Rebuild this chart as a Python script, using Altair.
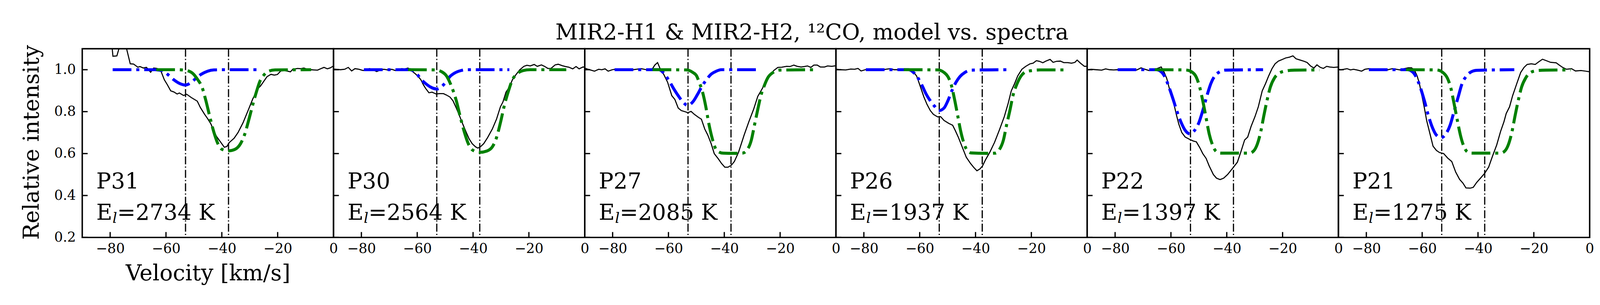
import altair as alt
import pandas as pd

# ---------------- data ----------------
title_text = ["MIR2-H1 & MIR2-H2, ¹²CO, model vs. spectra"]
line_names = ["P31", "P30", "P27", "P26", "P22", "P21"]
energies = ["=2734 K", "=2564 K", "=2085 K", "=1937 K", "=1397 K", "=1275 K"]
vlines = [-53.0, -37.6]
x_ticks = [-80, -60, -40, -20]
y_ticks = [0.2, 0.4, 0.6, 0.8, 1.0]

# P31
sv31 = [-80.0, -79.0, -77.6, -76.2, -75.3, -74.3, -72.8, -71.6, -70.1, -69.3, -68.1, -67.0, -65.5, -64.4, -63.2,
        -61.8, -60.6, -59.5, -58.3, -57.2, -56.0, -55.2, -53.7, -52.6, -50.9, -48.8, -47.7, -46.2, -45.1, -43.9,
        -42.8, -41.9, -40.5, -39.1, -38.2, -37.3, -35.6, -34.2, -32.4, -30.7, -29.0, -27.2, -26.1, -24.9, -23.8,
        -22.4, -21.2, -20.1, -18.9, -17.5, -15.4, -14.6, -12.9, -11.7, -10.6, -9.4, -8.2, -7.1, -5.7, -4.5, -3.4,
        -2.2, -1.1, 0.0]
sy31 = [1.20, 1.064, 1.066, 1.13, 1.16, 1.11, 1.028, 1.027, 1.012, 1.015, 1.008, 1.011, 0.988, 1.008, 1.006,
        0.993, 0.952, 0.928, 0.899, 0.894, 0.884, 0.889, 0.877, 0.883, 0.867, 0.850, 0.820, 0.788, 0.767, 0.741,
        0.706, 0.682, 0.656, 0.630, 0.634, 0.653, 0.673, 0.700, 0.747, 0.802, 0.858, 0.908, 0.923, 0.946, 0.967,
        0.978, 0.974, 0.977, 0.994, 0.996, 0.990, 1.002, 1.006, 1.005, 1.008, 1.002, 1.000, 0.999, 0.998, 1.005,
        1.011, 1.004, 1.009, 1.018]
bv31 = [-79.1, -64.0, -62.5, -61.2, -58.9, -57.2, -55.5, -53.0, -50.9, -49.1, -47.4, -45.1, -42.8, -40.0, -27.2]
by31 = [1.0, 1.0, 0.998, 0.995, 0.972, 0.952, 0.937, 0.927, 0.940, 0.961, 0.978, 0.993, 0.999, 1.0, 1.0]
gv31 = [-63.5, -56.0, -52.6, -50.3, -48.6, -47.1, -45.7, -44.2, -42.8, -41.4, -39.9, -37.6, -35.3, -33.3, -31.9,
        -30.4, -29.0, -27.5, -26.4, -24.9, -23.2, -20.9, -8.0]
gy31 = [1.0, 1.0, 0.996, 0.981, 0.952, 0.917, 0.852, 0.770, 0.700, 0.647, 0.620, 0.613, 0.620, 0.647, 0.688,
        0.758, 0.829, 0.899, 0.943, 0.975, 0.993, 0.999, 1.0]

# P30
sv30 = [-90.0, -89.2, -87.5, -86.0, -84.7, -83.5, -82.3, -80.9, -79.4, -78.3, -77.1, -76.0, -74.5, -73.1, -72.0,
        -70.5, -69.1, -67.9, -66.8, -65.6, -64.5, -63.3, -62.1, -61.0, -59.8, -58.7, -57.8, -57.0, -55.8, -54.7,
        -53.2, -52.0, -50.6, -49.5, -48.3, -47.2, -46.0, -44.9, -43.7, -42.6, -41.4, -40.3, -39.1, -38.3, -37.4,
        -36.2, -34.8, -33.1, -31.6, -30.2, -29.3, -28.2, -27.0, -25.9, -24.7, -23.3, -21.8, -20.7, -19.5, -18.1,
        -17.0, -15.5, -14.4, -13.2, -12.1, -10.6, -9.5, -8.0, -6.9, -5.7, -4.3, -3.1, -2.0, -0.6, 0.0]
sy30 = [1.003, 1.002, 1.000, 1.002, 1.011, 0.994, 1.005, 1.002, 0.996, 0.999, 1.005, 1.000, 0.991, 0.999, 1.002,
        0.999, 1.002, 0.996, 0.999, 1.005, 1.003, 1.008, 0.996, 0.984, 0.970, 0.952, 0.928, 0.911, 0.890, 0.893,
        0.884, 0.886, 0.886, 0.879, 0.870, 0.852, 0.817, 0.782, 0.741, 0.706, 0.670, 0.647, 0.632, 0.626, 0.632,
        0.647, 0.676, 0.717, 0.764, 0.823, 0.846, 0.893, 0.917, 0.952, 0.975, 0.999, 1.016, 1.021, 1.018, 1.025,
        1.016, 1.023, 1.016, 1.006, 1.006, 1.023, 1.026, 1.019, 1.015, 1.012, 1.004, 1.015, 1.004, 1.013, 1.012]
bv30 = [-79.1, -62.7, -60.4, -58.7, -57.0, -55.2, -53.0, -51.2, -49.8, -48.3, -46.6, -44.3, -42.0, -27.0]
by30 = [1.0, 1.0, 0.984, 0.955, 0.934, 0.917, 0.908, 0.920, 0.940, 0.967, 0.984, 0.996, 1.0, 1.0]
gv30 = [-63.3, -53.5, -51.2, -49.5, -47.8, -46.0, -44.6, -43.2, -41.7, -40.3, -37.6, -35.1, -33.1, -31.6, -30.2,
        -28.8, -27.3, -25.9, -24.2, -22.1, -19.5, -6.6]
gy30 = [1.0, 0.999, 0.990, 0.970, 0.923, 0.852, 0.776, 0.706, 0.647, 0.618, 0.606, 0.612, 0.632, 0.676, 0.747,
        0.829, 0.899, 0.952, 0.981, 0.996, 1.0, 1.0]

# P27
sv27 = [-90.0, -88.8, -86.5, -85.0, -83.9, -82.7, -81.6, -80.1, -79.0, -77.2, -75.5, -74.4, -73.2, -71.5, -69.7,
        -68.0, -66.6, -65.7, -64.9, -63.9, -62.9, -61.7, -60.3, -58.8, -57.7, -56.5, -55.4, -53.9, -53.1, -51.9,
        -50.8, -49.3, -48.2, -47.0, -45.9, -44.7, -43.6, -42.1, -41.0, -39.8, -38.7, -37.5, -36.4, -34.9, -32.9,
        -31.2, -29.5, -28.0, -26.6, -24.9, -23.4, -22.3, -20.8, -19.4, -17.7, -16.5, -15.1, -13.9, -12.5, -11.3,
        -10.2, -9.0, -7.9, -6.7, -5.6, -4.1, -3.0, -1.5, 0.0]
sy27 = [1.008, 1.002, 0.993, 1.002, 1.000, 1.004, 0.993, 1.000, 1.002, 0.999, 1.002, 0.996, 0.999, 1.002, 1.005,
        1.000, 0.999, 1.005, 1.022, 1.034, 1.002, 0.978, 0.940, 0.876, 0.858, 0.817, 0.805, 0.799, 0.795, 0.801,
        0.788, 0.773, 0.764, 0.717, 0.688, 0.647, 0.600, 0.574, 0.553, 0.535, 0.535, 0.544, 0.562, 0.606, 0.688,
        0.752, 0.811, 0.873, 0.905, 0.946, 0.975, 0.996, 1.011, 1.012, 1.016, 1.015, 1.022, 1.016, 1.013, 1.015,
        1.018, 1.011, 1.022, 1.022, 1.013, 1.013, 1.018, 1.016, 1.019]
bv27 = [-79.3, -63.4, -61.7, -60.0, -58.2, -56.5, -54.8, -53.2, -51.3, -49.6, -47.9, -46.4, -45.0, -43.3, -41.0, -27.9]
by27 = [1.0, 1.0, 0.984, 0.952, 0.911, 0.876, 0.846, 0.830, 0.846, 0.882, 0.923, 0.952, 0.975, 0.990, 1.0, 1.0]
gv27 = [-65.7, -53.6, -51.3, -49.9, -49.0, -47.9, -46.7, -45.6, -44.4, -43.3, -42.1, -40.4, -36.4, -33.5, -31.8,
        -30.3, -29.2, -28.0, -26.9, -25.7, -24.3, -22.5, -20.2, -7.0]
gy27 = [1.0, 0.999, 0.987, 0.970, 0.940, 0.899, 0.829, 0.747, 0.676, 0.629, 0.609, 0.602, 0.601, 0.602, 0.618,
        0.665, 0.735, 0.811, 0.876, 0.923, 0.964, 0.987, 0.998, 1.0]

# P26
sv26 = [-90.0, -88.8, -86.5, -84.7, -83.3, -82.1, -81.0, -79.5, -78.1, -76.7, -74.9, -73.2, -72.1, -70.6, -69.2,
        -67.5, -65.7, -64.0, -62.3, -61.1, -60.3, -59.4, -58.5, -57.4, -56.2, -55.1, -53.6, -52.5, -51.3, -49.6,
        -48.2, -47.3, -46.1, -44.7, -43.3, -41.8, -40.7, -39.5, -38.4, -37.5, -36.4, -34.9, -33.2, -31.5, -29.7,
        -28.3, -27.2, -26.0, -24.9, -23.4, -22.0, -20.5, -19.4, -18.2, -17.1, -15.9, -14.8, -13.3, -12.2, -11.0,
        -9.6, -8.4, -7.0, -5.6, -4.4, -3.6, -2.4, -1.0, 0.0]
sy26 = [1.003, 1.000, 0.999, 1.003, 1.002, 1.006, 0.994, 1.000, 1.003, 1.002, 1.001, 1.000, 1.002, 1.005, 1.000,
        1.000, 1.000, 1.003, 0.990, 0.970, 0.940, 0.905, 0.870, 0.835, 0.805, 0.787, 0.775, 0.776, 0.758, 0.744,
        0.735, 0.711, 0.676, 0.629, 0.582, 0.553, 0.535, 0.518, 0.527, 0.541, 0.571, 0.606, 0.653, 0.711, 0.776,
        0.840, 0.899, 0.934, 0.970, 1.002, 1.016, 1.028, 1.031, 1.043, 1.040, 1.033, 1.041, 1.049, 1.035, 1.040,
        1.041, 1.034, 1.034, 1.031, 1.035, 1.046, 1.031, 1.016, 1.016]
bv26 = [-79.3, -64.0, -62.0, -60.5, -59.1, -57.7, -56.2, -54.5, -53.1, -51.3, -49.9, -48.5, -47.0, -45.6, -43.8,
        -41.5, -28.3]
by26 = [1.0, 1.0, 0.984, 0.958, 0.923, 0.884, 0.852, 0.823, 0.805, 0.817, 0.852, 0.899, 0.940, 0.967, 0.987,
        0.998, 1.0]
gv26 = [-65.7, -53.6, -51.3, -49.9, -48.7, -47.6, -46.4, -45.3, -44.1, -43.0, -41.5, -36.4, -32.9, -31.5, -30.0,
        -28.9, -27.7, -26.6, -25.1, -23.7, -22.0, -19.7, -16.8, -7.0]
gy26 = [1.0, 0.999, 0.987, 0.967, 0.928, 0.864, 0.782, 0.706, 0.647, 0.615, 0.603, 0.601, 0.602, 0.618, 0.665,
        0.735, 0.805, 0.876, 0.934, 0.970, 0.990, 0.996, 0.999, 0.999]

# P22
sv22 = [-90.0, -88.6, -86.9, -84.8, -83.4, -82.0, -80.5, -79.1, -77.4, -75.6, -73.9, -72.2, -70.7, -69.3, -67.9,
        -66.4, -65.0, -63.5, -62.4, -61.5, -60.7, -59.8, -58.9, -58.1, -57.2, -56.1, -54.9, -53.2, -52.0, -50.9,
        -49.7, -48.6, -47.4, -46.3, -44.8, -43.7, -42.4, -41.1, -39.7, -37.9, -36.2, -35.0, -33.6, -32.5, -31.3,
        -29.9, -28.7, -27.3, -26.1, -25.0, -23.8, -22.7, -21.5, -20.1, -18.9, -17.5, -16.3, -15.2, -13.7, -12.3,
        -11.2, -10.0, -8.8, -7.7, -6.5, -5.4, -4.2, -3.1, -1.7, 0.0]
sy22 = [0.999, 1.002, 1.000, 0.998, 1.004, 1.000, 0.999, 1.000, 1.003, 1.000, 0.999, 0.999, 1.009, 1.002, 0.996,
        0.996, 1.005, 1.013, 0.987, 0.958, 0.917, 0.876, 0.835, 0.788, 0.741, 0.700, 0.679, 0.667, 0.660, 0.656,
        0.629, 0.600, 0.577, 0.541, 0.500, 0.483, 0.476, 0.483, 0.500, 0.530, 0.559, 0.606, 0.665, 0.679, 0.729,
        0.776, 0.823, 0.899, 0.934, 0.970, 1.005, 1.028, 1.041, 1.049, 1.056, 1.060, 1.066, 1.052, 1.046, 1.040,
        1.034, 1.018, 1.008, 1.023, 1.011, 1.006, 1.016, 1.013, 1.011, 1.013]
bv22 = [-79.1, -65.3, -63.5, -62.1, -60.7, -59.2, -57.8, -56.3, -54.9, -53.2, -51.5, -50.0, -48.6, -47.1, -45.7,
        -44.3, -42.8, -40.5, -27.0]
by22 = [1.0, 1.0, 0.990, 0.964, 0.917, 0.858, 0.800, 0.747, 0.711, 0.694, 0.711, 0.747, 0.805, 0.876, 0.934,
        0.970, 0.988, 0.998, 1.0]
gv22 = [-65.8, -54.9, -52.6, -50.9, -49.7, -48.6, -47.4, -46.3, -45.1, -43.7, -42.2, -31.9, -30.4, -29.0, -27.8,
        -26.7, -25.5, -24.4, -22.9, -21.5, -19.2, -15.8, -6.8]
gy22 = [1.0, 0.999, 0.990, 0.964, 0.917, 0.852, 0.770, 0.694, 0.641, 0.609, 0.602, 0.602, 0.612, 0.647, 0.706,
        0.782, 0.858, 0.917, 0.961, 0.981, 0.993, 0.998, 0.999]

# P21
sv21 = [-90.0, -89.2, -88.0, -86.9, -85.7, -84.6, -83.1, -81.7, -80.5, -79.1, -77.4, -75.6, -73.9, -72.2, -70.7,
        -69.3, -67.9, -66.4, -65.0, -63.8, -62.7, -61.8, -61.0, -60.1, -59.2, -58.4, -57.2, -56.1, -54.9, -53.8,
        -52.3, -50.9, -49.4, -48.0, -46.6, -45.4, -44.3, -42.8, -41.7, -40.5, -39.1, -37.6, -36.2, -34.8, -33.3,
        -31.9, -30.7, -29.9, -28.7, -27.6, -26.1, -24.7, -23.5, -22.4, -20.9, -19.5, -18.3, -16.9, -15.5, -14.0,
        -12.0, -10.9, -9.7, -8.3, -6.5, -5.1, -3.1, -1.4, 0.0]
sy21 = [1.002, 0.999, 1.002, 1.005, 0.999, 1.002, 0.998, 0.993, 1.002, 1.005, 1.002, 1.000, 1.002, 1.000, 1.005,
        1.002, 0.999, 1.005, 1.009, 1.009, 0.996, 0.970, 0.934, 0.876, 0.817, 0.758, 0.694, 0.635, 0.615, 0.605,
        0.600, 0.579, 0.562, 0.512, 0.477, 0.459, 0.436, 0.435, 0.439, 0.462, 0.483, 0.506, 0.535, 0.588, 0.641,
        0.706, 0.752, 0.791, 0.823, 0.876, 0.934, 0.987, 1.011, 1.025, 1.028, 1.025, 1.037, 1.050, 1.043, 1.035,
        1.033, 1.022, 1.011, 1.002, 1.005, 0.994, 0.996, 0.993, 0.990]
bv21 = [-79.1, -65.3, -63.5, -62.1, -60.7, -59.2, -57.8, -56.3, -54.9, -53.2, -51.5, -50.0, -48.6, -47.1, -45.7,
        -44.3, -42.8, -40.5, -27.0]
by21 = [1.0, 1.0, 0.990, 0.964, 0.917, 0.852, 0.782, 0.723, 0.688, 0.676, 0.694, 0.735, 0.800, 0.870, 0.934,
        0.967, 0.987, 0.997, 1.0]
gv21 = [-65.8, -54.9, -52.6, -50.9, -49.7, -48.6, -47.4, -46.3, -45.1, -43.7, -42.2, -31.9, -30.4, -29.0, -27.8,
        -26.7, -25.5, -24.4, -22.9, -21.5, -19.2, -15.8, -6.8]
gy21 = [1.0, 0.999, 0.987, 0.958, 0.911, 0.840, 0.758, 0.688, 0.635, 0.607, 0.602, 0.602, 0.612, 0.647, 0.706,
        0.782, 0.858, 0.917, 0.961, 0.984, 0.995, 0.998, 0.999]

spectra = [(sv31, sy31), (sv30, sy30), (sv27, sy27), (sv26, sy26), (sv22, sy22), (sv21, sy21)]
blue_models = [(bv31, by31), (bv30, by30), (bv27, by27), (bv26, by26), (bv22, by22), (bv21, by21)]
green_models = [(gv31, gy31), (gv30, gy30), (gv27, gy27), (gv26, gy26), (gv22, gy22), (gv21, gy21)]

# ---------------- styling ----------------
FONT = "DejaVu Serif"
W, H = 697, 523
BIG = 61
TICKF = 38
MODEL_W = 8.3
MODEL_DASH = [52, 13.5, 8.5, 13.5]


def frame(v, y):
    n = min(len(v), len(y))
    return pd.DataFrame({"v": list(v)[:n], "y": list(y)[:n]})


xscale = alt.Scale(domain=[-90, 0], nice=False, zero=False)
yscale = alt.Scale(domain=[0.2, 1.1], nice=False, zero=False)


def make_panel(i):
    first = i == 0
    if first:
        xaxis = alt.Axis(values=[-80, -60, -40, -20, 0], format="d", ticks=False, tickSize=0, domain=False,
                         grid=False, labelFlush=False, labelPadding=13, labelFont=FONT, labelFontSize=TICKF,
                         labelColor="black", title="Velocity [km/s]", titleFont=FONT, titleFontSize=BIG,
                         titleFontWeight="normal", titleColor="black", titleX=W / 2, titleY=118,
                         titleBaseline="alphabetic", titleAlign="center")
        yaxis = alt.Axis(values=y_ticks, format=".1f", ticks=False, tickSize=0, domain=False, grid=False,
                         labelPadding=18, labelFont=FONT, labelFontSize=TICKF, labelColor="black",
                         title="Relative intensity", titleFont=FONT, titleFontSize=BIG, titleFontWeight="normal",
                         titleColor="black", titleX=-121, titleY=-11, titleAngle=270,
                         titleBaseline="alphabetic", titleAlign="right")
        X = alt.X("v:Q", scale=xscale, axis=xaxis, title="Velocity [km/s]")
        Y = alt.Y("y:Q", scale=yscale, axis=yaxis, title="Relative intensity")
    else:
        xaxis = alt.Axis(values=[-80, -60, -40, -20, 0], format="d", ticks=False, tickSize=0, domain=False,
                         grid=False, labelFlush=False, labelPadding=13, labelFont=FONT, labelFontSize=TICKF,
                         labelColor="black")
        X = alt.X("v:Q", scale=xscale, axis=xaxis, title=None)
        Y = alt.Y("y:Q", scale=yscale, axis=None)

    vl = alt.Chart(pd.DataFrame({"v": vlines})).mark_rule(
        color="black", strokeWidth=3.3, strokeDash=[22, 6, 3.3, 6]).encode(x=X)

    sv, sy = spectra[i]
    spec = alt.Chart(frame(sv, sy)).mark_line(color="black", strokeWidth=3, clip=True).encode(x=X, y=Y)

    bv, by = blue_models[i]
    blue = alt.Chart(frame(bv, by)).mark_line(color="#0000ff", strokeWidth=MODEL_W, strokeDash=MODEL_DASH,
                                               interpolate="monotone", clip=True).encode(x=X, y=Y)
    gv, gy = green_models[i]
    green = alt.Chart(frame(gv, gy)).mark_line(color="#008000", strokeWidth=MODEL_W, strokeDash=MODEL_DASH,
                                                interpolate="monotone", clip=True).encode(x=X, y=Y)

    xt = alt.Chart(pd.DataFrame({"v": x_ticks})).mark_rule(color="black", strokeWidth=3.5).encode(
        x=X, y=alt.value(H), y2=alt.value(H - 15))
    yt = alt.Chart(pd.DataFrame({"y": y_ticks})).mark_rule(color="black", strokeWidth=3.5).encode(
        y=Y, x=alt.value(0), x2=alt.value(15))

    lab = alt.Chart(pd.DataFrame({"t": [line_names[i]]})).mark_text(
        font=FONT, fontSize=BIG, align="left", baseline="alphabetic", color="black").encode(
        text="t:N", x=alt.value(39), y=alt.value(387))
    e1 = alt.Chart(pd.DataFrame({"t": ["E"]})).mark_text(
        font=FONT, fontSize=BIG, align="left", baseline="alphabetic", color="black").encode(
        text="t:N", x=alt.value(39), y=alt.value(474))
    e2 = alt.Chart(pd.DataFrame({"t": ["l"]})).mark_text(
        font=FONT, fontSize=40, fontStyle="italic", align="left", baseline="alphabetic", color="black").encode(
        text="t:N", x=alt.value(84), y=alt.value(483))
    e3 = alt.Chart(pd.DataFrame({"t": [energies[i]]})).mark_text(
        font=FONT, fontSize=BIG, align="left", baseline="alphabetic", color="black").encode(
        text="t:N", x=alt.value(97), y=alt.value(474))

    layers = [vl, spec, blue, green, xt, yt, lab, e1, e2, e3]
    if i == 2:
        # figure title, centred on the page (x = 2250 px), drawn above the panels
        ttl = alt.Chart(pd.DataFrame({"t": title_text})).mark_text(
            font=FONT, fontSize=BIG, align="center", baseline="alphabetic", color="black").encode(
            text="t:N", x=alt.value(630.5), y=alt.value(-26))
        layers.append(ttl)
    return alt.layer(*layers).properties(width=W, height=H)


panels = [make_panel(i) for i in range(6)]

chart = alt.hconcat(*panels, spacing=0, bounds="flush").properties(
    padding={"left": 47.5, "top": 18, "right": 5, "bottom": 0},
).configure(font=FONT, background="white").configure_view(stroke="black", strokeWidth=4)

chart.save("out.html", embed_options={"renderer": "svg", "actions": False})
